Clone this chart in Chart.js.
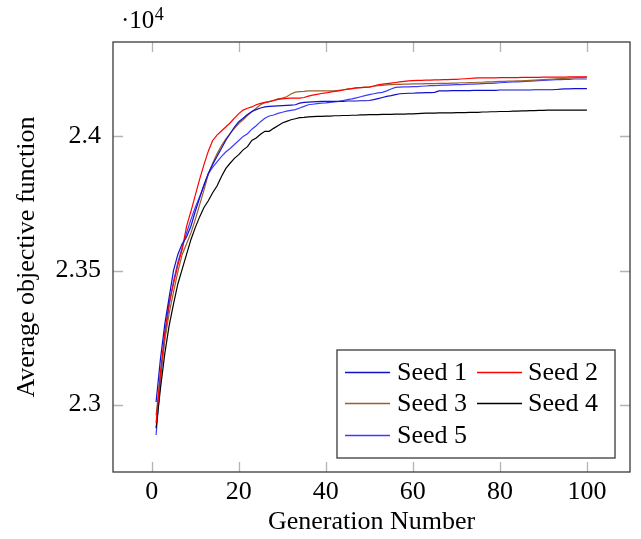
<!DOCTYPE html>
<html><head><meta charset="utf-8">
<script src="https://cdn.jsdelivr.net/npm/chart.js@4/dist/chart.umd.min.js"></script>
<style>html,body{margin:0;padding:0;background:#fff;}#wrap{width:641px;height:539px;}</style>
</head><body><div id="wrap"><canvas id="c" width="641" height="539"></canvas></div>
<script>
const generations = [1,2,3,4,5,6,7,8,9,10,11,12,13,14,15,16,17,18,19,20,21,22,23,24,25,26,27,28,29,30,31,32,33,34,35,36,37,38,39,40,41,42,43,44,45,46,47,48,49,50,51,52,53,54,55,56,57,58,59,60,61,62,63,64,65,66,67,68,69,70,71,72,73,74,75,76,77,78,79,80,81,82,83,84,85,86,87,88,89,90,91,92,93,94,95,96,97,98,99,100];

const seed1 = [23010,23170,23300,23400,23500,23560,23600,23625,23665,23720,
  23770,23820,23862,23895,23925,23955,23985,24010,24035,24055,
  24068,24082,24093,24100,24106,24110,24112,24113,24114,24115,
  24116,24117,24118,24124,24127,24128,24129,24130,24131,24131,
  24131,24131,24131,24131,24132,24132,24132,24133,24133,24134,
  24137,24141,24145,24149,24152,24156,24159,24160,24161,24161,
  24162,24162,24163,24163,24164,24170,24170,24170,24171,24171,
  24171,24171,24171,24172,24172,24172,24172,24172,24172,24173,
  24173,24173,24173,24173,24173,24173,24173,24174,24174,24174,
  24174,24174,24175,24176,24177,24177,24178,24178,24178,24178];

const seed2 = [22931,23120,23270,23380,23450,23520,23580,23665,23720,23780,
  23840,23895,23945,23985,24005,24020,24035,24050,24068,24085,
  24098,24105,24110,24118,24123,24127,24130,24133,24138,24140,
  24142,24143,24143,24143,24145,24150,24154,24157,24160,24162,
  24165,24168,24170,24173,24176,24178,24181,24182,24183,24184,
  24188,24192,24195,24197,24199,24201,24203,24205,24207,24208,
  24209,24209,24210,24210,24211,24211,24212,24212,24213,24213,
  24214,24215,24216,24217,24218,24218,24218,24218,24218,24219,
  24219,24219,24219,24219,24220,24220,24220,24220,24220,24221,
  24221,24221,24221,24221,24221,24222,24222,24222,24222,24222];

const seed3 = [22960,23110,23240,23340,23420,23495,23560,23600,23640,23690,
  23745,23800,23860,23900,23935,23965,23990,24010,24030,24048,
  24062,24078,24092,24105,24118,24126,24130,24135,24140,24143,
  24148,24158,24165,24167,24168,24170,24170,24170,24170,24170,
  24170,24170,24172,24174,24176,24178,24181,24182,24184,24185,
  24187,24189,24190,24192,24193,24194,24194,24195,24195,24196,
  24196,24196,24197,24197,24197,24198,24198,24198,24199,24199,
  24200,24200,24201,24201,24202,24202,24203,24203,24204,24205,
  24205,24206,24206,24207,24207,24208,24209,24210,24211,24212,
  24213,24214,24215,24216,24216,24217,24218,24219,24219,24220];

const seed4 = [22912,23060,23190,23295,23375,23450,23505,23560,23615,23660,
  23700,23735,23760,23790,23815,23850,23880,23900,23918,23932,
  23950,23962,23985,23994,24008,24019,24019,24030,24040,24050,
  24056,24062,24066,24070,24071,24073,24074,24075,24075,24076,
  24076,24077,24077,24078,24078,24079,24079,24080,24080,24081,
  24081,24081,24082,24082,24082,24083,24083,24083,24084,24084,
  24085,24086,24087,24087,24087,24088,24088,24088,24088,24089,
  24089,24089,24090,24090,24090,24091,24091,24092,24092,24093,
  24093,24093,24094,24094,24095,24095,24096,24096,24097,24097,
  24098,24098,24098,24098,24098,24098,24098,24098,24098,24098];

const seed5 = [22887,23090,23250,23370,23460,23530,23585,23640,23690,23735,
  23775,23815,23860,23885,23905,23925,23942,23955,23970,23985,
  24000,24010,24027,24040,24055,24068,24076,24080,24086,24090,
  24094,24097,24100,24106,24112,24118,24120,24122,24124,24125,
  24127,24129,24131,24134,24137,24140,24144,24148,24152,24156,
  24159,24162,24164,24170,24177,24183,24184,24185,24185,24186,
  24186,24187,24188,24189,24189,24190,24191,24191,24192,24193,
  24193,24194,24195,24195,24196,24197,24198,24198,24199,24200,
  24201,24202,24203,24203,24204,24205,24206,24207,24208,24209,
  24210,24211,24212,24212,24213,24213,24214,24214,24214,24214];

const seriesLabels = ['Seed 1','Seed 2','Seed 3','Seed 4','Seed 5'];
const seriesColors = ['#1010c8','#ff0000','#9a5f28','#000000','#3c3cff'];
const xTicks = [0,20,40,60,80,100];
const yTicks = [23000,23500,24000];
const yTickLabels = ['2.3','2.35','2.4'];
const xRange = [-8.9, 109.9];
const yRange = [22749, 24352];

const FONT = '"Liberation Serif", "DejaVu Serif", serif';
const FS = 26;
const allSeries = [seed1, seed2, seed3, seed4, seed5];

const frameAndLegend = {
  id: 'frameAndLegend',
  afterDraw(chart) {
    const ctx = chart.ctx;
    const a = chart.chartArea;
    const xs = chart.scales.x, ys = chart.scales.y;
    ctx.save();
    ctx.strokeStyle = '#b4b4b4';
    ctx.lineWidth = 1.3;
    const tl = 10;
    ctx.beginPath();
    xTicks.forEach(v => {
      const px = Math.round(xs.getPixelForValue(v)) + 0.5;
      ctx.moveTo(px, a.bottom); ctx.lineTo(px, a.bottom - tl);
      ctx.moveTo(px, a.top); ctx.lineTo(px, a.top + tl);
    });
    yTicks.forEach(v => {
      const py = Math.round(ys.getPixelForValue(v)) + 0.5;
      ctx.moveTo(a.left, py); ctx.lineTo(a.left + tl, py);
      ctx.moveTo(a.right, py); ctx.lineTo(a.right - tl, py);
    });
    ctx.stroke();
    ctx.strokeStyle = '#3a3a3a';
    ctx.lineWidth = 1.3;
    ctx.strokeRect(a.left, a.top, a.right - a.left, a.bottom - a.top);

    ctx.fillStyle = '#000';
    ctx.textBaseline = 'alphabetic';
    ctx.textAlign = 'left';
    ctx.font = '25px ' + FONT;
    const base = '\u00b710';
    ctx.fillText(base, 121, 28);
    const w = ctx.measureText(base).width;
    ctx.font = '18px ' + FONT;
    ctx.fillText('4', 121 + w + 0.5, 20);

    const L = {x: 337, y: 350, w: 278, h: 108};
    ctx.fillStyle = '#fff';
    ctx.fillRect(L.x, L.y, L.w, L.h);
    ctx.strokeStyle = '#3a3a3a';
    ctx.lineWidth = 1.3;
    ctx.strokeRect(L.x, L.y, L.w, L.h);
    const rows = [372, 403, 435];
    const cols = [{l0: 345, l1: 390, t: 397}, {l0: 477, l1: 522, t: 528}];
    ctx.font = FS + 'px ' + FONT;
    ctx.textBaseline = 'middle';
    chart.data.datasets.forEach((ds, i) => {
      const r = rows[Math.floor(i / 2)], c = cols[i % 2];
      ctx.strokeStyle = seriesColors[i];
      ctx.lineWidth = 1.3;
      ctx.beginPath();
      ctx.moveTo(c.l0, r + 0.5); ctx.lineTo(c.l1, r + 0.5);
      ctx.stroke();
      ctx.fillStyle = '#000';
      ctx.fillText(ds.label, c.t, r + 1);
    });
    ctx.restore();
  }
};

new Chart(document.getElementById('c'), {
  type: 'line',
  data: {
    datasets: allSeries.map((s, i) => ({
      label: seriesLabels[i],
      data: generations.map((g, j) => ({x: g, y: s[j]})),
      borderColor: seriesColors[i],
      borderWidth: 1.2,
      pointRadius: 0,
      tension: 0,
      fill: false
    }))
  },
  options: {
    responsive: false,
    animation: false,
    devicePixelRatio: 1,
    layout: {padding: {left: 0, right: 11, top: 42, bottom: 0}},
    plugins: {legend: {display: false}, tooltip: {enabled: false}},
    scales: {
      x: {
        type: 'linear', min: xRange[0], max: xRange[1],
        afterBuildTicks: s => { s.ticks = xTicks.map(v => ({value: v})); },
        afterFit: s => { s.height = 67; },
        grid: {display: false, drawTicks: false},
        border: {display: false},
        ticks: {font: {family: FONT, size: FS}, color: '#000', padding: 4.5, maxRotation: 0, autoSkip: false},
        title: {display: true, text: 'Generation Number', color: '#000', font: {family: FONT, size: FS, lineHeight: 1.2}, padding: {top: 0, bottom: 1.5}}
      },
      y: {
        type: 'linear', min: yRange[0], max: yRange[1],
        afterBuildTicks: s => { s.ticks = yTicks.map(v => ({value: v})); },
        afterFit: s => { s.width = 113; },
        grid: {display: false, drawTicks: false},
        border: {display: false},
        ticks: {font: {family: FONT, size: FS}, color: '#000', padding: 12, autoSkip: false,
          callback: v => yTickLabels[yTicks.indexOf(v)]},
        title: {display: true, text: 'Average objective function', color: '#000', font: {family: FONT, size: FS, lineHeight: 1.2}, padding: {top: 11.5, bottom: 0}}
      }
    }
  },
  plugins: [frameAndLegend]
});
</script>
</body></html>
